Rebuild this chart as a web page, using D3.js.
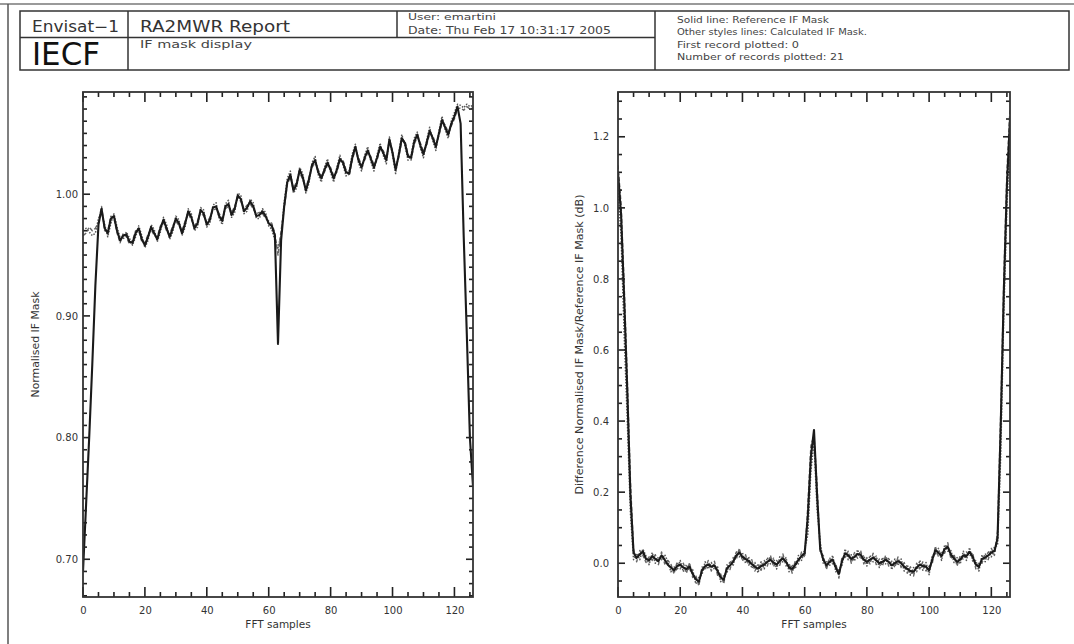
<!DOCTYPE html>
<html>
<head>
<meta charset="utf-8">
<script src="https://cdn.jsdelivr.net/npm/d3@7"></script>
<style>
body { margin: 0; background: #fff; }
svg { display: block; font-family: "DejaVu Sans", sans-serif; }
</style>
</head>
<body>
<div id="wrapper"></div>
<script>
// reference IF mask (solid line), one value per FFT sample 0..126
const refMask = [
 0.690,0.745,0.800,0.860,0.925,0.975,0.988,0.972,0.968,0.980,
 0.982,0.970,0.962,0.966,0.967,0.961,0.960,0.968,0.972,0.963,
 0.958,0.965,0.973,0.968,0.963,0.972,0.979,0.972,0.965,0.972,
 0.980,0.976,0.968,0.976,0.986,0.981,0.972,0.976,0.987,0.984,
 0.975,0.979,0.989,0.990,0.982,0.978,0.990,0.992,0.983,0.988,
 0.999,0.996,0.986,0.989,0.994,0.990,0.982,0.983,0.986,0.982,
 0.976,0.974,0.966,0.877,0.962,0.990,1.010,1.016,1.003,1.008,
 1.020,1.014,1.003,1.012,1.024,1.028,1.018,1.013,1.020,1.026,
 1.020,1.013,1.020,1.029,1.026,1.018,1.017,1.030,1.039,1.028,
 1.022,1.030,1.036,1.029,1.022,1.030,1.039,1.034,1.028,1.045,
 1.034,1.020,1.032,1.046,1.042,1.031,1.030,1.043,1.049,1.040,
 1.033,1.042,1.052,1.046,1.039,1.050,1.061,1.055,1.049,1.058,
 1.064,1.072,1.058,0.965,0.885,0.800,0.760];

// calculated IF masks (other line styles)
const calcMaskA = [
 0.970,0.972,0.969,0.966,0.968,0.980,0.985,0.975,0.965,0.976,
 0.984,0.973,0.964,0.963,0.969,0.964,0.958,0.965,0.974,0.966,
 0.956,0.962,0.975,0.971,0.961,0.969,0.981,0.975,0.963,0.969,
 0.982,0.979,0.966,0.973,0.988,0.984,0.970,0.973,0.989,0.987,
 0.973,0.976,0.991,0.993,0.980,0.975,0.992,0.995,0.981,0.985,
 1.001,0.999,0.984,0.986,0.996,0.993,0.980,0.980,0.988,0.985,
 0.974,0.971,0.962,0.956,0.966,0.993,1.013,1.019,1.001,1.005,
 1.022,1.017,1.001,1.009,1.026,1.031,1.016,1.010,1.022,1.029,
 1.018,1.010,1.022,1.032,1.024,1.015,1.019,1.033,1.041,1.026,
 1.019,1.032,1.039,1.027,1.019,1.032,1.042,1.032,1.025,1.047,
 1.032,1.017,1.034,1.049,1.040,1.028,1.032,1.046,1.051,1.038,
 1.030,1.044,1.055,1.044,1.036,1.052,1.064,1.053,1.046,1.060,
 1.067,1.074,1.073,1.071,1.074,1.072,1.073];

const calcMaskB = [
 0.966,0.968,0.973,0.970,0.972,0.977,0.990,0.970,0.970,0.982,
 0.980,0.968,0.960,0.968,0.965,0.959,0.962,0.970,0.970,0.961,
 0.960,0.967,0.971,0.966,0.965,0.974,0.977,0.970,0.967,0.974,
 0.978,0.974,0.970,0.978,0.984,0.979,0.974,0.978,0.985,0.982,
 0.977,0.981,0.987,0.988,0.984,0.980,0.988,0.990,0.985,0.990,
 0.997,0.994,0.988,0.991,0.992,0.988,0.984,0.985,0.984,0.980,
 0.978,0.976,0.968,0.950,0.970,0.988,1.008,1.014,1.005,1.010,
 1.018,1.012,1.005,1.014,1.022,1.026,1.020,1.015,1.018,1.024,
 1.022,1.015,1.018,1.027,1.028,1.020,1.015,1.028,1.037,1.030,
 1.024,1.028,1.034,1.031,1.024,1.028,1.037,1.036,1.030,1.043,
 1.036,1.022,1.030,1.044,1.044,1.033,1.028,1.041,1.047,1.042,
 1.035,1.040,1.050,1.048,1.041,1.048,1.059,1.057,1.051,1.056,
 1.062,1.070,1.071,1.069,1.072,1.070,1.071];

// difference calculated / reference, dB
const diffA = [
 1.100,0.980,0.740,0.480,0.190,0.030,0.015,0.025,0.033,0.012,
 0.008,0.020,0.012,0.006,0.022,0.010,-0.004,-0.012,-0.020,-0.008,
 -0.004,-0.012,-0.016,-0.010,-0.030,-0.045,-0.052,-0.020,-0.008,-0.004,
 -0.010,-0.006,-0.022,-0.040,-0.046,-0.015,-0.006,0.004,0.022,0.030,
 0.018,0.012,0.006,-0.002,-0.010,-0.015,-0.008,-0.004,0.004,0.010,
 0.002,-0.004,0.006,0.014,0.004,-0.012,-0.016,-0.004,0.010,0.020,
 0.028,0.130,0.300,0.375,0.190,0.040,0.010,-0.006,0.004,0.010,
 -0.012,-0.030,0.006,0.028,0.022,0.012,0.018,0.026,0.024,0.010,
 0.004,0.010,0.016,0.008,0.000,0.004,0.010,0.004,-0.006,0.000,
 0.006,0.000,-0.010,-0.016,-0.022,-0.024,-0.012,-0.004,-0.008,-0.010,
 -0.020,0.010,0.036,0.030,0.020,0.040,0.046,0.024,0.014,0.004,
 0.010,0.022,0.020,0.032,0.018,-0.004,-0.010,0.012,0.016,0.022,
 0.030,0.034,0.070,0.380,0.760,1.060,1.250];

const diffB = [
 1.050,0.920,0.640,0.400,0.140,0.010,0.028,0.010,0.040,0.020,
 -0.004,0.030,0.000,0.018,0.010,0.024,0.006,-0.024,-0.010,-0.020,
 0.008,-0.024,-0.004,-0.022,-0.018,-0.058,-0.040,-0.032,0.004,-0.016,
 0.002,-0.018,-0.010,-0.052,-0.034,-0.028,0.006,-0.008,0.034,0.018,
 0.030,0.000,0.018,-0.014,0.002,-0.027,0.004,-0.016,0.016,-0.002,
 0.014,-0.016,0.018,0.002,0.016,-0.024,-0.004,-0.016,0.022,0.008,
 0.040,0.080,0.260,0.340,0.150,0.060,-0.002,0.006,-0.008,0.022,
 -0.024,-0.018,-0.006,0.040,0.010,0.024,0.006,0.038,0.012,0.022,
 -0.008,0.022,0.004,0.020,-0.012,0.016,-0.002,0.016,-0.018,0.012,
 -0.006,0.012,-0.022,-0.004,-0.034,-0.012,-0.024,0.008,-0.020,0.002,
 -0.032,0.022,0.024,0.042,0.008,0.052,0.034,0.036,0.002,0.016,
 -0.002,0.034,0.008,0.044,0.006,0.008,-0.022,0.024,0.004,0.034,
 0.018,0.046,0.050,0.300,0.700,1.000,1.200];

const diffC = [
 1.120,1.010,0.780,0.520,0.230,0.040,0.004,0.036,0.022,0.002,
 0.018,0.008,0.024,-0.004,0.032,-0.002,0.008,-0.002,-0.030,0.004,
 -0.016,0.000,-0.028,0.002,-0.040,-0.034,-0.064,-0.010,-0.020,0.008,
 -0.022,0.006,-0.034,-0.030,-0.058,-0.004,-0.018,0.016,0.010,0.042,
 0.006,0.024,-0.006,0.010,-0.022,-0.004,-0.020,0.008,-0.008,0.022,
 -0.010,0.008,-0.006,0.026,-0.008,0.000,-0.028,0.008,-0.002,0.032,
 0.016,0.160,0.330,0.360,0.220,0.030,0.022,-0.018,0.016,-0.002,
 0.000,-0.042,0.018,0.016,0.034,0.000,0.030,0.014,0.036,-0.002,
 0.016,-0.002,0.028,-0.004,0.012,-0.008,0.022,-0.008,0.006,-0.012,
 0.018,-0.012,0.002,-0.028,-0.010,-0.036,0.000,-0.016,0.004,-0.022,
 -0.008,-0.002,0.048,0.018,0.032,0.028,0.058,0.012,0.026,-0.008,
 0.022,0.010,0.032,0.020,0.030,-0.016,0.002,0.000,0.028,0.010,
 0.042,0.022,0.090,0.420,0.800,1.100,1.280];

const xTicks = [0, 20, 40, 60, 80, 100, 120];
const leftYTicks = [0.70, 0.80, 0.90, 1.00];
const rightYTicks = [0.0, 0.2, 0.4, 0.6, 0.8, 1.0, 1.2];
const infoLines = [
  "Solid line: Reference IF Mask",
  "Other styles lines: Calculated IF Mask.",
  "First record plotted: 0",
  "Number of records plotted: 21"
];

const width = 1074, height = 644;
const ink = "#1a1a1a";
const tickColor = "#222";

const svg = d3.select("#wrapper").append("svg")
  .attr("width", width)
  .attr("height", height);

svg.append("rect").attr("width", width).attr("height", height).attr("fill", "#fff");

// page frame
svg.append("line").attr("x1", 0).attr("x2", width).attr("y1", 4).attr("y2", 4)
  .attr("stroke", "#9a9a9a").attr("stroke-width", 2);
svg.append("line").attr("x1", 8).attr("x2", 8).attr("y1", 4).attr("y2", height)
  .attr("stroke", "#555").attr("stroke-width", 1.5);

// header block
const header = svg.append("g").attr("stroke", "#333").attr("stroke-width", 1.5).attr("fill", "none");
header.append("rect").attr("x", 20).attr("y", 11).attr("width", 1049).attr("height", 59);
header.append("line").attr("x1", 20).attr("x2", 655).attr("y1", 37.5).attr("y2", 37.5);
header.append("line").attr("x1", 128).attr("x2", 128).attr("y1", 11).attr("y2", 70);
header.append("line").attr("x1", 397).attr("x2", 397).attr("y1", 11).attr("y2", 37.5);
header.append("line").attr("x1", 655).attr("x2", 655).attr("y1", 11).attr("y2", 70);

function headText(str, x, y, size, len, color) {
  svg.append("text")
    .attr("x", x).attr("y", y)
    .attr("font-size", size)
    .attr("fill", color || "#333")
    .attr("textLength", len)
    .attr("lengthAdjust", "spacingAndGlyphs")
    .text(str);
}
headText("Envisat\u22121", 32, 32, 15, 87);
headText("RA2MWR Report", 140, 32, 15, 150);
headText("IECF", 32, 65, 32, 68, "#111");
headText("IF mask display", 140, 48, 11, 112, "#444");
headText("User: emartini", 408, 20, 9.5, 88, "#444");
headText("Date: Thu Feb 17 10:31:17 2005", 408, 34, 10, 203, "#444");
const infoLens = [152, 190, 122, 167];
infoLines.forEach((t, i) => headText(t, 677, 23 + i * 12.4, 9.5, infoLens[i], "#444"));

// inward tick marks on one side of a panel, as rects so they always show
function tickMarks(g, values, scale, side, len, cfg) {
  const w = 1.6;
  values.forEach(v => {
    const p = scale(v);
    let x, y, rw, rh;
    if (side === "bottom") { x = p - w / 2; y = cfg.bottom - len; rw = w; rh = len; }
    if (side === "top") { x = p - w / 2; y = cfg.top; rw = w; rh = len; }
    if (side === "left") { x = cfg.left; y = p - w / 2; rw = len; rh = w; }
    if (side === "right") { x = cfg.right - len; y = p - w / 2; rw = len; rh = w; }
    g.append("rect")
      .attr("x", x).attr("y", y)
      .attr("width", rw).attr("height", rh)
      .attr("fill", tickColor);
  });
}

function drawPanel(cfg) {
  const xScale = d3.scaleLinear().domain([0, 126]).range([cfg.left, cfg.right]);
  const yScale = d3.scaleLinear().domain(cfg.yDomain).range([cfg.bottom, cfg.top]);

  svg.append("clipPath").attr("id", cfg.id + "-clip")
    .append("rect")
    .attr("x", cfg.left).attr("y", cfg.top)
    .attr("width", cfg.right - cfg.left).attr("height", cfg.bottom - cfg.top);

  const lineGenerator = d3.line()
    .x((d, i) => xScale(i))
    .y(d => yScale(d));

  const lines = svg.append("g").attr("clip-path", `url(#${cfg.id}-clip)`);
  cfg.series.forEach(s => {
    lines.append("path")
      .attr("d", lineGenerator(s.values))
      .attr("fill", "none")
      .attr("stroke", s.color)
      .attr("stroke-width", s.width)
      .attr("stroke-linejoin", "round")
      .attr("stroke-dasharray", s.dash || null);
  });

  const xMinor = d3.range(0, 127, 5).filter(v => v % 20 !== 0);
  const yMinor = d3.range(Math.ceil(cfg.yDomain[0] / cfg.minorStep), Math.floor(cfg.yDomain[1] / cfg.minorStep) + 1)
    .map(k => +(k * cfg.minorStep).toFixed(4))
    .filter(v => !cfg.yTicks.some(t => Math.abs(t - v) < 1e-6));

  const ticks = svg.append("g").attr("class", "ticks");
  tickMarks(ticks, xTicks, xScale, "bottom", 10, cfg);
  tickMarks(ticks, xMinor, xScale, "bottom", 5, cfg);
  tickMarks(ticks, xTicks, xScale, "top", 10, cfg);
  tickMarks(ticks, xMinor, xScale, "top", 5, cfg);
  tickMarks(ticks, cfg.yTicks, yScale, "left", 7, cfg);
  tickMarks(ticks, yMinor, yScale, "left", 4, cfg);
  tickMarks(ticks, cfg.yTicks, yScale, "right", 7, cfg);
  tickMarks(ticks, yMinor, yScale, "right", 4, cfg);

  // tick labels through d3 axes
  const xAxis = svg.append("g")
    .attr("transform", `translate(0,${cfg.bottom})`)
    .call(d3.axisBottom(xScale).tickValues(xTicks).tickSize(0).tickPadding(10).tickFormat(d3.format("d")));
  const yAxis = svg.append("g")
    .attr("transform", `translate(${cfg.left},0)`)
    .call(d3.axisLeft(yScale).tickValues(cfg.yTicks).tickSize(0).tickPadding(cfg.yPad).tickFormat(d3.format(cfg.yFormat)));
  [xAxis, yAxis].forEach(g => {
    g.select(".domain").remove();
    g.selectAll(".tick line").remove();
    g.selectAll(".tick text")
      .attr("fill", "#333")
      .attr("font-size", 10)
      .attr("font-family", "DejaVu Sans, sans-serif");
  });

  svg.append("rect")
    .attr("x", cfg.left).attr("y", cfg.top)
    .attr("width", cfg.right - cfg.left).attr("height", cfg.bottom - cfg.top)
    .attr("fill", "none").attr("stroke", "#333").attr("stroke-width", 1.8);

  svg.append("text")
    .attr("x", (cfg.left + cfg.right) / 2).attr("y", 628)
    .attr("text-anchor", "middle")
    .attr("font-size", 10.5).attr("fill", "#333")
    .text("FFT samples");

  svg.append("text")
    .attr("transform", `translate(${cfg.labelX},${(cfg.top + cfg.bottom) / 2}) rotate(-90)`)
    .attr("text-anchor", "middle")
    .attr("font-size", 10).attr("fill", "#333")
    .attr("textLength", cfg.labelLen)
    .attr("lengthAdjust", "spacingAndGlyphs")
    .text(cfg.yLabel);
}

drawPanel({
  id: "mask",
  left: 83, right: 473, top: 92, bottom: 597,
  yDomain: [0.669, 1.084],
  yTicks: leftYTicks, minorStep: 0.01, yFormat: ".2f", yPad: 5,
  labelX: 39, labelLen: 106,
  yLabel: "Normalised IF Mask",
  series: [
    { values: calcMaskB, color: "#666", width: 1.4, dash: "4,2" },
    { values: calcMaskA, color: "#555", width: 1.5, dash: "1.5,1.5" },
    { values: refMask, color: ink, width: 2.1 }
  ]
});

drawPanel({
  id: "diff",
  left: 618, right: 1010, top: 92, bottom: 597,
  yDomain: [-0.095, 1.326],
  yTicks: rightYTicks, minorStep: 0.05, yFormat: ".1f", yPad: 9,
  labelX: 583, labelLen: 300,
  yLabel: "Difference Normalised IF Mask/Reference IF Mask (dB)",
  series: [
    { values: diffC, color: "#666", width: 1.4, dash: "4,2" },
    { values: diffB, color: "#555", width: 1.5, dash: "1.5,1.5" },
    { values: diffA, color: ink, width: 2.1 }
  ]
});
</script>
</body>
</html>
